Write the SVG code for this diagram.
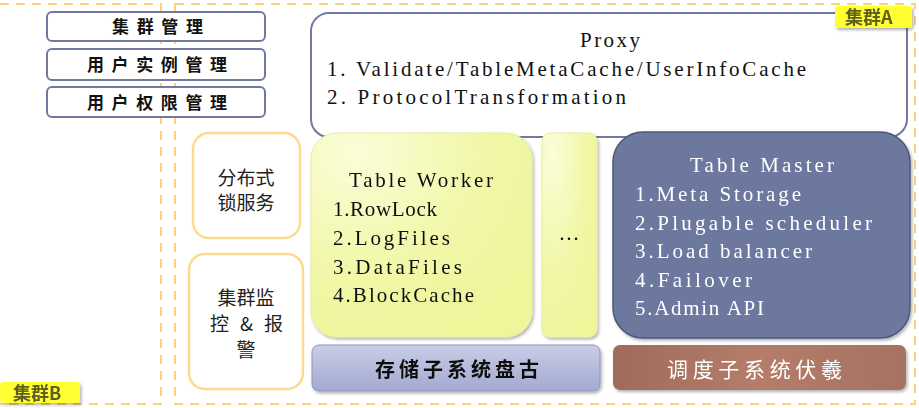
<svg xmlns="http://www.w3.org/2000/svg" width="919" height="408" viewBox="0 0 919 408">
<defs>
<style>
.dash{fill:none;stroke:#fdd27a;stroke-width:2;stroke-dasharray:9,7}
.mgr{fill:#fff;stroke:#7279a0;stroke-width:2}
.mgrt{font-family:"Noto Sans CJK SC",sans-serif;font-weight:bold;font-size:17px;fill:#111}
.mono{font-family:"Liberation Serif",serif;font-size:21px;fill:#111}
.wt{fill:#fff}
.orange{fill:#fff;stroke:#fddb8e;stroke-width:2.5}
.cjk{font-family:"Noto Sans CJK SC",sans-serif;font-size:19px;fill:#222;text-anchor:middle}
.tag{font-family:"Noto Sans CJK SC",sans-serif;font-weight:bold;font-size:18px;fill:#5e5e22}
</style>
<radialGradient id="gy" cx="0.2" cy="0.1" r="1">
<stop offset="0" stop-color="#fbfdd8"/>
<stop offset="0.6" stop-color="#f1f7a6"/>
<stop offset="1" stop-color="#eef59a"/>
</radialGradient>
<linearGradient id="gp" x1="0" y1="0" x2="0" y2="1">
<stop offset="0" stop-color="#c9cde6"/>
<stop offset="1" stop-color="#a3a9d2"/>
</linearGradient>
<linearGradient id="gb" x1="0" y1="0" x2="1" y2="0">
<stop offset="0" stop-color="#a06a5c"/>
<stop offset="0.5" stop-color="#b57d69"/>
<stop offset="1" stop-color="#a67262"/>
</linearGradient>
<filter id="sh" x="-5%" y="-5%" width="115%" height="120%">
<feDropShadow dx="1.5" dy="2" stdDeviation="1.5" flood-color="#000" flood-opacity="0.3"/>
</filter>
</defs>
<rect width="919" height="408" fill="#fff"/>

<g id="clusterB">
<path class="dash" d="M0,4 H161 V404 H0"/>
</g>
<g id="clusterA">
<rect class="dash" x="175" y="4" width="740" height="400"/>
</g>

<g id="mgr1"><rect class="mgr" x="47" y="12" width="218" height="29" rx="5"/><text class="mgrt" x="112" y="33" textLength="91" lengthAdjust="spacing">集群管理</text></g>
<g id="mgr2"><rect class="mgr" x="47" y="49" width="218" height="31" rx="5"/><text class="mgrt" x="87" y="71" textLength="140" lengthAdjust="spacing">用户实例管理</text></g>
<g id="mgr3"><rect class="mgr" x="47" y="87" width="218" height="30" rx="5"/><text class="mgrt" x="87" y="109" textLength="140" lengthAdjust="spacing">用户权限管理</text></g>

<g id="proxy">
<rect x="311" y="13" width="596" height="124" rx="18" fill="#fff" stroke="#7279a0" stroke-width="2"/>
<text class="mono" x="580" y="47" textLength="60" lengthAdjust="spacing">Proxy</text>
<text class="mono" x="327" y="76" textLength="479" lengthAdjust="spacing">1. Validate/TableMetaCache/UserInfoCache</text>
<text class="mono" x="327" y="104" textLength="299" lengthAdjust="spacing">2. ProtocolTransformation</text>
</g>

<g id="lock">
<rect class="orange" x="193" y="133" width="107" height="105" rx="16"/>
<text class="cjk" x="246" y="185">分布式</text>
<text class="cjk" x="246" y="210">锁服务</text>
</g>
<g id="monitor">
<rect class="orange" x="189" y="254" width="114" height="135" rx="16"/>
<text class="cjk" x="246" y="305">集群监</text>
<text class="cjk" x="210" y="331" textLength="73" lengthAdjust="spacing" style="text-anchor:start">控&amp;报</text>
<text class="cjk" x="246" y="357">警</text>
</g>

<g id="worker" filter="url(#sh)">
<rect x="311" y="133" width="221" height="204" rx="26" fill="url(#gy)" stroke="#e6ee9c" stroke-width="1"/>
<text class="mono" x="349" y="187" textLength="144" lengthAdjust="spacing">Table Worker</text>
<text class="mono" x="333" y="216" textLength="104" lengthAdjust="spacing">1.RowLock</text>
<text class="mono" x="333" y="245" textLength="117" lengthAdjust="spacing">2.LogFiles</text>
<text class="mono" x="333" y="274" textLength="129" lengthAdjust="spacing">3.DataFiles</text>
<text class="mono" x="333" y="302" textLength="141" lengthAdjust="spacing">4.BlockCache</text>
</g>
<g id="more" filter="url(#sh)">
<rect x="542" y="133" width="55" height="204" rx="8" fill="url(#gy)" stroke="#e6ee9c" stroke-width="1"/>
<text class="mono" x="569" y="240" text-anchor="middle">…</text>
</g>

<g id="master" filter="url(#sh)">
<rect x="613" y="132" width="297" height="206" rx="30" fill="#6d789f" stroke="#4d5679" stroke-width="1.5"/>
<text class="mono wt" x="690" y="172" textLength="144" lengthAdjust="spacing">Table Master</text>
<text class="mono wt" x="635" y="201" textLength="166" lengthAdjust="spacing">1.Meta Storage</text>
<text class="mono wt" x="635" y="230" textLength="237" lengthAdjust="spacing">2.Plugable scheduler</text>
<text class="mono wt" x="635" y="258" textLength="177" lengthAdjust="spacing">3.Load balancer</text>
<text class="mono wt" x="635" y="287" textLength="117" lengthAdjust="spacing">4.Failover</text>
<text class="mono wt" x="635" y="315" textLength="129" lengthAdjust="spacing">5.Admin API</text>
</g>

<g id="pangu" filter="url(#sh)">
<rect x="312" y="345" width="288" height="46" rx="7" fill="url(#gp)" stroke="#8d93bf" stroke-width="1"/>
<text x="375" y="377" textLength="164" lengthAdjust="spacing" style="font-family:'Noto Sans CJK SC',sans-serif;font-weight:bold;font-size:20px;fill:#111">存储子系统盘古</text>
</g>
<g id="fuxi" filter="url(#sh)">
<rect x="613" y="345" width="293" height="45" rx="7" fill="url(#gb)"/>
<text x="667" y="377" textLength="175" lengthAdjust="spacing" style="font-family:'Noto Sans CJK SC',sans-serif;font-size:21px;fill:#fff">调度子系统伏羲</text>
</g>

<g id="tagA" filter="url(#sh)">
<rect x="835" y="6" width="77" height="22" rx="3" fill="#ffff33"/>
<text class="tag" x="845" y="24">集群A</text>
</g>
<g id="tagB" filter="url(#sh)">
<rect x="0" y="382" width="80" height="21" rx="3" fill="#ffff33"/>
<text class="tag" x="13" y="400">集群B</text>
</g>
<g id="connectors"></g>
</svg>
